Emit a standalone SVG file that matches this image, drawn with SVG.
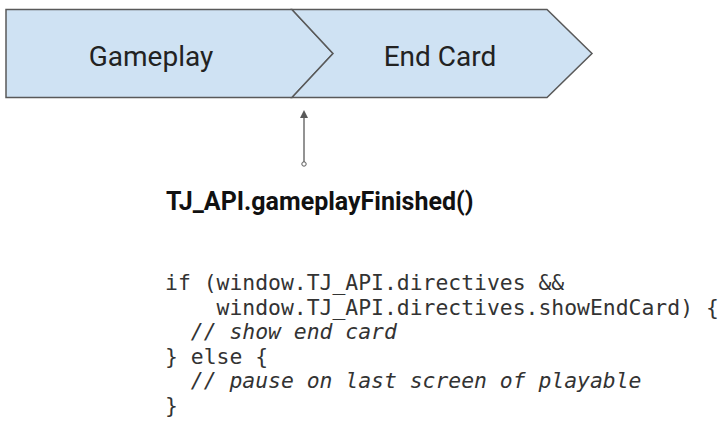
<svg xmlns="http://www.w3.org/2000/svg" width="722" height="424" viewBox="0 0 722 424">
  <style>
    .stage { fill: #cfe2f3; stroke: #595959; stroke-width: 1.5; stroke-linejoin: miter; }
    .label { font-family: Roboto, "Liberation Sans", sans-serif; font-size: 28px; fill: #222222; text-anchor: middle; }
    .title { font-family: Roboto, "Liberation Sans", sans-serif; font-size: 25px; font-weight: bold; fill: #111111; }
    .code { font-family: "DejaVu Sans Mono", "Liberation Mono", monospace; font-size: 21.4px; fill: #333333; white-space: pre; }
    .comment { font-style: italic; }
    .link { stroke: #595959; stroke-width: 1.3; fill: none; }
  </style>
  <defs>
    <marker id="arrowHead" markerWidth="8" markerHeight="8" refX="4" refY="4" orient="auto" markerUnits="userSpaceOnUse">
      <path d="M0,0 L8,4 L0,8 z" fill="#595959"/>
    </marker>
    <marker id="tailDot" markerWidth="6" markerHeight="6" refX="3" refY="3" markerUnits="userSpaceOnUse">
      <circle cx="3" cy="3" r="2.2" fill="#ffffff" stroke="#595959" stroke-width="1"/>
    </marker>
  </defs>

  <g id="gameplay">
    <path class="stage" d="M6,9.5 L292,9.5 L333,53.5 L292,97.5 L6,97.5 Z"/>
    <text class="label" x="151" y="66">Gameplay</text>
  </g>

  <g id="end-card">
    <path class="stage" d="M292,9.5 L547,9.5 L592,53.5 L547,97.5 L292,97.5 L333,53.5 Z"/>
    <text class="label" x="440" y="66">End Card</text>
  </g>

  <g id="connectors">
    <line class="link" x1="304" y1="164" x2="304" y2="114" marker-start="url(#tailDot)" marker-end="url(#arrowHead)"/>
  </g>

  <g id="api-call">
    <text class="title" x="166" y="210">TJ_API.gameplayFinished()</text>
  </g>

  <g id="code-sample">
    <text class="code" x="165" y="290">if (window.TJ_API.directives &amp;&amp;</text>
    <text class="code" x="165" y="314.5">    window.TJ_API.directives.showEndCard) {</text>
    <text class="code comment" x="165" y="339">  // show end card</text>
    <text class="code" x="165" y="363.5">} else {</text>
    <text class="code comment" x="165" y="388">  // pause on last screen of playable</text>
    <text class="code" x="165" y="412.5">}</text>
  </g>
</svg>
